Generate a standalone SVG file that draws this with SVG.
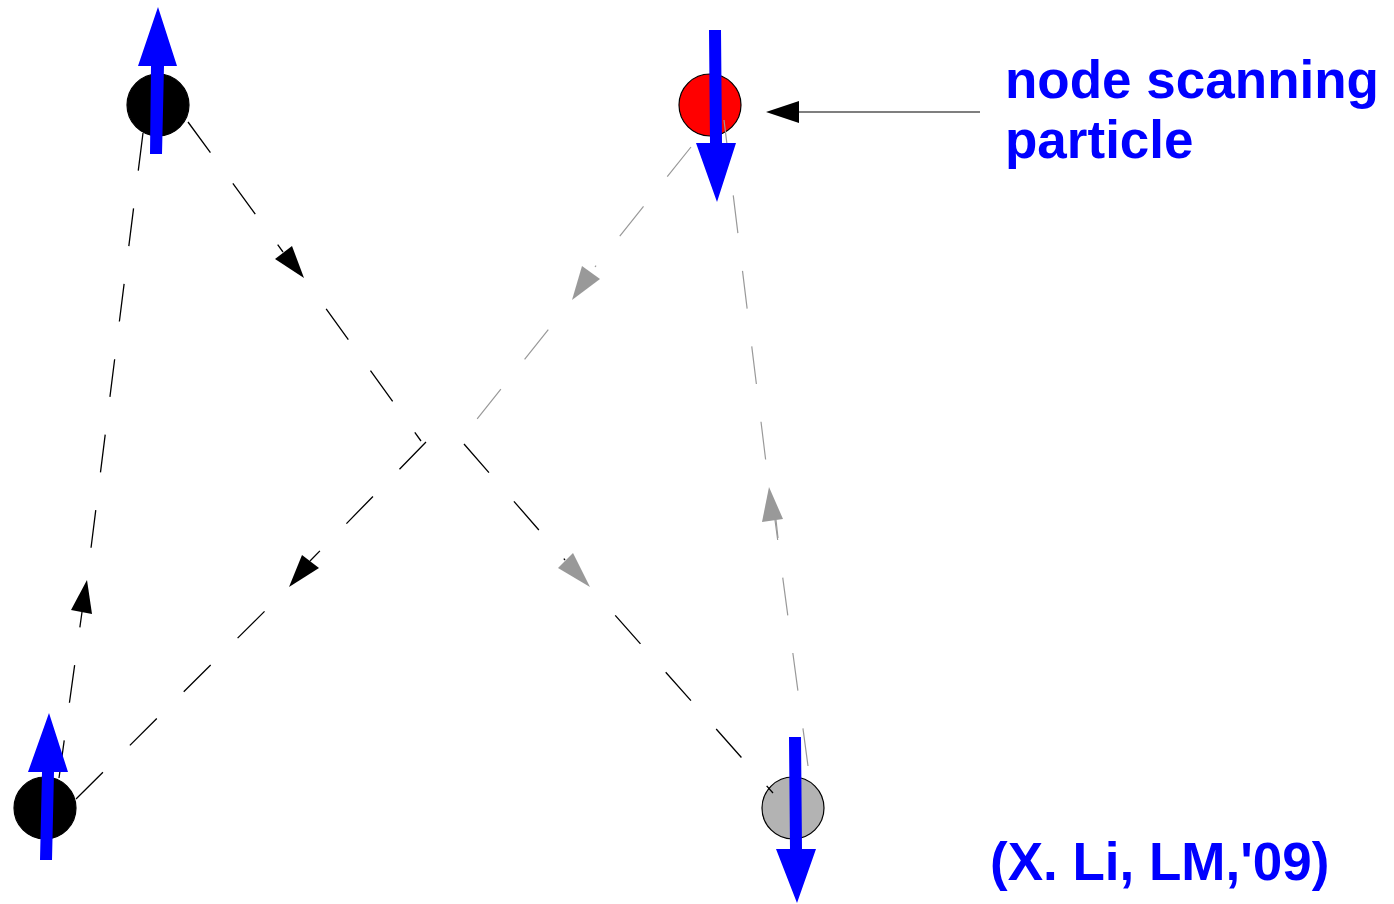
<svg xmlns="http://www.w3.org/2000/svg" width="1394" height="904" viewBox="0 0 1394 904">
<style>
.node circle{stroke:#000;stroke-width:1.2}
.dk{fill:none;stroke:#000;stroke-width:1.3;stroke-dasharray:38 38}
.gy{fill:none;stroke:#999;stroke-width:1.2;stroke-dasharray:38 38}
.ah-k{fill:#000}
.ah-g{fill:#999}
.spin{fill:#0000ff}
.lbl{font-family:"Liberation Sans",Arial,sans-serif;font-weight:bold;font-size:53px;fill:#0000ff}
</style>
<rect width="1394" height="904" fill="#fff"/>
<g id="node-A" class="node"><circle cx="158" cy="105" r="31" fill="#000"/></g>
<g id="node-B" class="node"><circle cx="710" cy="105" r="31" fill="#ff0000"/></g>
<g id="node-C" class="node"><circle cx="45" cy="808" r="31" fill="#000"/></g>
<g id="node-D" class="node"><circle cx="793" cy="808" r="31" fill="#b3b3b3"/></g>
<g id="connectors">
  <!-- A to D -->
  <path class="dk" d="M188,122 L283,252"/>
  <polygon class="ah-k" points="304,278 275,259 292,246"/>
  <path class="dk" style="stroke-dashoffset:38" d="M304,278 L421,441"/>
  <path class="dk" d="M464,444 L565,560"/>
  <polygon class="ah-g" points="590,587 558,568 573,553"/>
  <path class="dk" style="stroke-dashoffset:38" d="M590,587 L773,793"/>
  <!-- B to C -->
  <path class="gy" d="M691,147 L595,267"/>
  <polygon class="ah-g" points="572,300 582,266 600,279"/>
  <path class="gy" style="stroke-dashoffset:38" d="M572,300 L477,419"/>
  <path class="dk" d="M426,442 L310,561"/>
  <polygon class="ah-k" points="289,587 302,555 319,568"/>
  <path class="dk" d="M76,799 L289,587"/>
  <!-- C to A -->
  <path class="dk" d="M59,778 L82,612"/>
  <polygon class="ah-k" points="87,580 71,610 92,614"/>
  <path class="dk" d="M143,133 L87,580"/>
  <!-- D to B -->
  <path class="gy" d="M808,766 L775,520"/>
  <path fill="none" stroke="#999" stroke-width="1.2" d="M778,538 L776,520"/>
  <polygon class="ah-g" points="769,487 762,522 783,519"/>
  <path class="gy" d="M724,120 L769,487"/>
  <!-- label pointer -->
  <line x1="980" y1="112" x2="797" y2="112" stroke="#555" stroke-width="1.5"/>
  <polygon class="ah-k" points="766,112 799,101 799,123"/>
</g>
<g id="spins">
  <polygon class="spin" points="150,154 162,154 164,66 177,66 158,7 138,66 151,66"/>
  <polygon class="spin" points="709,30 721,30 722,143 736,143 717,202 696,143 710,143"/>
  <polygon class="spin" points="40,860 52,860 54,772 68,772 49,713 28,772 42,772"/>
  <polygon class="spin" points="789,737 801,737 802,849 816,849 797,903 776,849 790,849"/>
</g>
<g id="labels">
  <text class="lbl" x="1005" y="98">node scanning</text>
  <text class="lbl" x="1005" y="158">particle</text>
  <text class="lbl" x="990" y="880">(X. Li, LM,'09)</text>
</g>
</svg>
